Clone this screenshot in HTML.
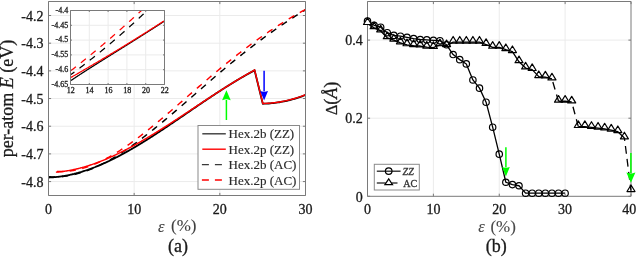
<!DOCTYPE html>
<html><head><meta charset="utf-8"><style>
html,body{margin:0;padding:0;background:#fff;width:637px;height:257px;overflow:hidden}
body{position:relative;font-family:"Liberation Serif",serif}
</style></head><body>
<svg width="637" height="257" viewBox="0 0 637 257" style="position:absolute;left:0;top:0;will-change:transform">
<g font-family="'Liberation Serif', serif">
<line x1="134.17" y1="1.50" x2="134.17" y2="195.50" stroke="#ebebeb" stroke-width="1" />
<line x1="219.83" y1="1.50" x2="219.83" y2="195.50" stroke="#ebebeb" stroke-width="1" />
<line x1="48.50" y1="15.50" x2="305.50" y2="15.50" stroke="#ebebeb" stroke-width="1" />
<line x1="48.50" y1="43.18" x2="305.50" y2="43.18" stroke="#ebebeb" stroke-width="1" />
<line x1="48.50" y1="70.86" x2="305.50" y2="70.86" stroke="#ebebeb" stroke-width="1" />
<line x1="48.50" y1="98.54" x2="305.50" y2="98.54" stroke="#ebebeb" stroke-width="1" />
<line x1="48.50" y1="126.22" x2="305.50" y2="126.22" stroke="#ebebeb" stroke-width="1" />
<line x1="48.50" y1="153.90" x2="305.50" y2="153.90" stroke="#ebebeb" stroke-width="1" />
<line x1="48.50" y1="181.58" x2="305.50" y2="181.58" stroke="#ebebeb" stroke-width="1" />
<defs><clipPath id="cl"><rect x="48.5" y="1.5" width="257" height="194"/></clipPath><clipPath id="cr"><rect x="367.5" y="1.5" width="264" height="195"/></clipPath><clipPath id="ci"><rect x="70.5" y="10.5" width="94" height="74"/></clipPath></defs>
<g clip-path="url(#cl)" fill="none" stroke-linejoin="round">
<path d="M48.50,176.73 L49.36,176.79 L50.22,176.84 L51.08,176.88 L51.94,176.91 L52.81,176.94 L53.67,176.95 L54.53,176.95 L55.39,176.95 L56.25,176.93 L57.11,176.90 L57.97,176.87 L58.83,176.83 L59.70,176.77 L60.56,176.71 L61.42,176.64 L62.28,176.56 L63.14,176.47 L64.00,176.37 L64.86,176.26 L65.72,176.15 L66.59,176.02 L67.45,175.89 L68.31,175.75 L69.17,175.60 L70.03,175.44 L70.89,175.27 L71.75,175.10 L72.61,174.91 L73.47,174.72 L74.34,174.52 L75.20,174.31 L76.06,174.10 L76.92,173.87 L77.78,173.64 L78.64,173.40 L79.50,173.15 L80.36,172.89 L81.23,172.63 L82.09,172.36 L82.95,172.08 L83.81,171.79 L84.67,171.50 L85.53,171.20 L86.39,170.89 L87.25,170.58 L88.12,170.25 L88.98,169.92 L89.84,169.59 L90.70,169.24 L91.56,168.89 L92.42,168.53 L93.28,168.17 L94.14,167.80 L95.01,167.42 L95.87,167.04 L96.73,166.64 L97.59,166.25 L98.45,165.84 L99.31,165.43 L100.17,165.01 L101.03,164.59 L101.89,164.16 L102.76,163.73 L103.62,163.28 L104.48,162.84 L105.34,162.38 L106.20,161.92 L107.06,161.46 L107.92,160.99 L108.78,160.51 L109.65,160.03 L110.51,159.54 L111.37,159.04 L112.23,158.54 L113.09,158.04 L113.95,157.53 L114.81,157.01 L115.67,156.49 L116.54,155.97 L117.40,155.44 L118.26,154.90 L119.12,154.36 L119.98,153.81 L120.84,153.26 L121.70,152.71 L122.56,152.15 L123.42,151.58 L124.29,151.01 L125.15,150.44 L126.01,149.86 L126.87,149.28 L127.73,148.69 L128.59,148.10 L129.45,147.50 L130.31,146.90 L131.18,146.29 L132.04,145.69 L132.90,145.07 L133.76,144.46 L134.62,143.84 L135.48,143.21 L136.34,142.58 L137.20,141.95 L138.07,141.32 L138.93,140.68 L139.79,140.03 L140.65,139.39 L141.51,138.74 L142.37,138.09 L143.23,137.43 L144.09,136.77 L144.95,136.11 L145.82,135.44 L146.68,134.77 L147.54,134.10 L148.40,133.43 L149.26,132.75 L150.12,132.07 L150.98,131.39 L151.84,130.70 L152.71,130.01 L153.57,129.32 L154.43,128.63 L155.29,127.93 L156.15,127.23 L157.01,126.53 L157.87,125.83 L158.73,125.13 L159.60,124.42 L160.46,123.71 L161.32,123.00 L162.18,122.29 L163.04,121.57 L163.90,120.85 L164.76,120.14 L165.62,119.42 L166.48,118.69 L167.35,117.97 L168.21,117.24 L169.07,116.52 L169.93,115.79 L170.79,115.06 L171.65,114.33 L172.51,113.59 L173.37,112.86 L174.24,112.13 L175.10,111.39 L175.96,110.65 L176.82,109.91 L177.68,109.17 L178.54,108.43 L179.40,107.69 L180.26,106.95 L181.13,106.20 L181.99,105.46 L182.85,104.71 L183.71,103.97 L184.57,103.22 L185.43,102.47 L186.29,101.72 L187.15,100.98 L188.02,100.23 L188.88,99.48 L189.74,98.73 L190.60,97.98 L191.46,97.23 L192.32,96.48 L193.18,95.73 L194.04,94.98 L194.90,94.22 L195.77,93.47 L196.63,92.72 L197.49,91.97 L198.35,91.22 L199.21,90.47 L200.07,89.72 L200.93,88.97 L201.79,88.22 L202.66,87.47 L203.52,86.72 L204.38,85.97 L205.24,85.22 L206.10,84.48 L206.96,83.73 L207.82,82.98 L208.68,82.24 L209.55,81.49 L210.41,80.75 L211.27,80.01 L212.13,79.26 L212.99,78.52 L213.85,77.78 L214.71,77.04 L215.57,76.30 L216.43,75.57 L217.30,74.83 L218.16,74.10 L219.02,73.36 L219.88,72.63 L220.74,71.90 L221.60,71.17 L222.46,70.44 L223.32,69.72 L224.19,68.99 L225.05,68.27 L225.91,67.55 L226.77,66.83 L227.63,66.11 L228.49,65.40 L229.35,64.68 L230.21,63.97 L231.08,63.26 L231.94,62.55 L232.80,61.85 L233.66,61.14 L234.52,60.44 L235.38,59.74 L236.24,59.04 L237.10,58.35 L237.96,57.65 L238.83,56.96 L239.69,56.27 L240.55,55.58 L241.41,54.90 L242.27,54.21 L243.13,53.53 L243.99,52.85 L244.85,52.18 L245.72,51.50 L246.58,50.83 L247.44,50.15 L248.30,49.48 L249.16,48.82 L250.02,48.15 L250.88,47.49 L251.74,46.83 L252.61,46.17 L253.47,45.51 L254.33,44.86 L255.19,44.20 L256.05,43.55 L256.91,42.90 L257.77,42.26 L258.63,41.61 L259.49,40.97 L260.36,40.33 L261.22,39.69 L262.08,39.05 L262.94,38.42 L263.80,37.79 L264.66,37.16 L265.52,36.53 L266.38,35.90 L267.25,35.28 L268.11,34.66 L268.97,34.04 L269.83,33.42 L270.69,32.81 L271.55,32.19 L272.41,31.58 L273.27,30.97 L274.14,30.37 L275.00,29.76 L275.86,29.16 L276.72,28.56 L277.58,27.96 L278.44,27.37 L279.30,26.77 L280.16,26.18 L281.03,25.59 L281.89,25.00 L282.75,24.42 L283.61,23.84 L284.47,23.26 L285.33,22.68 L286.19,22.10 L287.05,21.53 L287.91,20.96 L288.78,20.39 L289.64,19.82 L290.50,19.25 L291.36,18.69 L292.22,18.13 L293.08,17.57 L293.94,17.02 L294.80,16.46 L295.67,15.91 L296.53,15.36 L297.39,14.81 L298.25,14.27 L299.11,13.73 L299.97,13.19 L300.83,12.65 L301.69,12.11 L302.56,11.58 L303.42,11.05 L304.28,10.52 L305.14,9.99 L306.00,9.47" stroke="#000" stroke-width="1.45" stroke-dasharray="6.40 6.44" stroke-dashoffset="12.29"/>
<path d="M55.90,171.35 L56.74,171.41 L57.57,171.46 L58.41,171.49 L59.25,171.52 L60.08,171.54 L60.92,171.54 L61.76,171.54 L62.59,171.52 L63.43,171.50 L64.26,171.47 L65.10,171.42 L65.94,171.37 L66.77,171.30 L67.61,171.23 L68.45,171.15 L69.28,171.06 L70.12,170.95 L70.96,170.84 L71.79,170.72 L72.63,170.59 L73.47,170.45 L74.30,170.31 L75.14,170.15 L75.97,169.98 L76.81,169.81 L77.65,169.62 L78.48,169.43 L79.32,169.23 L80.16,169.02 L80.99,168.80 L81.83,168.58 L82.67,168.34 L83.50,168.10 L84.34,167.85 L85.18,167.59 L86.01,167.32 L86.85,167.04 L87.69,166.76 L88.52,166.47 L89.36,166.17 L90.19,165.86 L91.03,165.54 L91.87,165.22 L92.70,164.89 L93.54,164.55 L94.38,164.21 L95.21,163.86 L96.05,163.50 L96.89,163.13 L97.72,162.76 L98.56,162.38 L99.40,161.99 L100.23,161.59 L101.07,161.19 L101.91,160.78 L102.74,160.37 L103.58,159.95 L104.41,159.52 L105.25,159.09 L106.09,158.65 L106.92,158.20 L107.76,157.75 L108.60,157.29 L109.43,156.82 L110.27,156.35 L111.11,155.87 L111.94,155.39 L112.78,154.90 L113.62,154.40 L114.45,153.90 L115.29,153.40 L116.12,152.89 L116.96,152.37 L117.80,151.85 L118.63,151.32 L119.47,150.79 L120.31,150.25 L121.14,149.70 L121.98,149.16 L122.82,148.60 L123.65,148.04 L124.49,147.48 L125.33,146.91 L126.16,146.34 L127.00,145.76 L127.84,145.18 L128.67,144.60 L129.51,144.01 L130.34,143.41 L131.18,142.81 L132.02,142.21 L132.85,141.60 L133.69,140.99 L134.53,140.38 L135.36,139.76 L136.20,139.14 L137.04,138.51 L137.87,137.88 L138.71,137.25 L139.55,136.61 L140.38,135.97 L141.22,135.32 L142.05,134.68 L142.89,134.03 L143.73,133.37 L144.56,132.72 L145.40,132.06 L146.24,131.39 L147.07,130.73 L147.91,130.06 L148.75,129.39 L149.58,128.71 L150.42,128.04 L151.26,127.36 L152.09,126.68 L152.93,125.99 L153.77,125.31 L154.60,124.62 L155.44,123.93 L156.27,123.24 L157.11,122.54 L157.95,121.85 L158.78,121.15 L159.62,120.45 L160.46,119.75 L161.29,119.04 L162.13,118.34 L162.97,117.63 L163.80,116.92 L164.64,116.21 L165.48,115.50 L166.31,114.79 L167.15,114.08 L167.98,113.36 L168.82,112.65 L169.66,111.93 L170.49,111.22 L171.33,110.50 L172.17,109.78 L173.00,109.06 L173.84,108.34 L174.68,107.62 L175.51,106.90 L176.35,106.18 L177.19,105.45 L178.02,104.73 L178.86,104.01 L179.70,103.28 L180.53,102.56 L181.37,101.84 L182.20,101.11 L183.04,100.39 L183.88,99.66 L184.71,98.94 L185.55,98.21 L186.39,97.49 L187.22,96.76 L188.06,96.04 L188.90,95.31 L189.73,94.58 L190.57,93.86 L191.41,93.13 L192.24,92.41 L193.08,91.68 L193.92,90.96 L194.75,90.24 L195.59,89.51 L196.42,88.79 L197.26,88.07 L198.10,87.34 L198.93,86.62 L199.77,85.90 L200.61,85.18 L201.44,84.46 L202.28,83.74 L203.12,83.02 L203.95,82.30 L204.79,81.59 L205.63,80.87 L206.46,80.15 L207.30,79.44 L208.13,78.73 L208.97,78.01 L209.81,77.30 L210.64,76.59 L211.48,75.88 L212.32,75.17 L213.15,74.47 L213.99,73.76 L214.83,73.06 L215.66,72.35 L216.50,71.65 L217.34,70.95 L218.17,70.25 L219.01,69.56 L219.85,68.86 L220.68,68.17 L221.52,67.47 L222.35,66.78 L223.19,66.09 L224.03,65.40 L224.86,64.72 L225.70,64.03 L226.54,63.35 L227.37,62.67 L228.21,61.99 L229.05,61.32 L229.88,60.64 L230.72,59.97 L231.56,59.30 L232.39,58.63 L233.23,57.97 L234.06,57.30 L234.90,56.64 L235.74,55.98 L236.57,55.32 L237.41,54.67 L238.25,54.01 L239.08,53.36 L239.92,52.71 L240.76,52.07 L241.59,51.42 L242.43,50.78 L243.27,50.14 L244.10,49.50 L244.94,48.87 L245.78,48.23 L246.61,47.60 L247.45,46.97 L248.28,46.34 L249.12,45.72 L249.96,45.10 L250.79,44.48 L251.63,43.86 L252.47,43.25 L253.30,42.63 L254.14,42.02 L254.98,41.41 L255.81,40.81 L256.65,40.21 L257.49,39.60 L258.32,39.01 L259.16,38.41 L259.99,37.82 L260.83,37.22 L261.67,36.64 L262.50,36.05 L263.34,35.47 L264.18,34.88 L265.01,34.31 L265.85,33.73 L266.69,33.15 L267.52,32.58 L268.36,32.01 L269.20,31.45 L270.03,30.88 L270.87,30.32 L271.71,29.76 L272.54,29.21 L273.38,28.66 L274.21,28.10 L275.05,27.56 L275.89,27.01 L276.72,26.47 L277.56,25.93 L278.40,25.39 L279.23,24.86 L280.07,24.32 L280.91,23.79 L281.74,23.27 L282.58,22.74 L283.42,22.22 L284.25,21.70 L285.09,21.19 L285.93,20.67 L286.76,20.16 L287.60,19.66 L288.43,19.15 L289.27,18.65 L290.11,18.15 L290.94,17.65 L291.78,17.16 L292.62,16.67 L293.45,16.18 L294.29,15.70 L295.13,15.21 L295.96,14.73 L296.80,14.26 L297.64,13.78 L298.47,13.31 L299.31,12.85 L300.14,12.38 L300.98,11.92 L301.82,11.46 L302.65,11.01 L303.49,10.55 L304.33,10.10 L305.16,9.66 L306.00,9.21" stroke="#f00" stroke-width="1.45" stroke-dasharray="6.40 6.41" stroke-dashoffset="11.85"/>
<path d="M48.50,177.52 L49.19,177.50 L49.88,177.47 L50.57,177.44 L51.26,177.41 L51.94,177.37 L52.63,177.32 L53.32,177.28 L54.01,177.22 L54.70,177.17 L55.39,177.11 L56.08,177.04 L56.77,176.97 L57.46,176.90 L58.15,176.82 L58.83,176.74 L59.52,176.65 L60.21,176.56 L60.90,176.47 L61.59,176.37 L62.28,176.26 L62.97,176.16 L63.66,176.05 L64.35,175.93 L65.04,175.81 L65.72,175.69 L66.41,175.56 L67.10,175.43 L67.79,175.30 L68.48,175.16 L69.17,175.02 L69.86,174.87 L70.55,174.72 L71.24,174.57 L71.92,174.41 L72.61,174.25 L73.30,174.08 L73.99,173.92 L74.68,173.74 L75.37,173.57 L76.06,173.39 L76.75,173.21 L77.44,173.02 L78.13,172.83 L78.81,172.63 L79.50,172.44 L80.19,172.24 L80.88,172.03 L81.57,171.83 L82.26,171.61 L82.95,171.40 L83.64,171.18 L84.33,170.96 L85.02,170.74 L85.70,170.51 L86.39,170.28 L87.08,170.04 L87.77,169.81 L88.46,169.56 L89.15,169.32 L89.84,169.07 L90.53,168.82 L91.22,168.57 L91.90,168.31 L92.59,168.05 L93.28,167.79 L93.97,167.52 L94.66,167.26 L95.35,166.98 L96.04,166.71 L96.73,166.43 L97.42,166.15 L98.11,165.87 L98.79,165.58 L99.48,165.29 L100.17,165.00 L100.86,164.70 L101.55,164.41 L102.24,164.11 L102.93,163.80 L103.62,163.50 L104.31,163.19 L104.99,162.88 L105.68,162.56 L106.37,162.25 L107.06,161.93 L107.75,161.60 L108.44,161.28 L109.13,160.95 L109.82,160.62 L110.51,160.29 L111.20,159.96 L111.88,159.62 L112.57,159.28 L113.26,158.94 L113.95,158.59 L114.64,158.25 L115.33,157.90 L116.02,157.55 L116.71,157.19 L117.40,156.84 L118.09,156.48 L118.77,156.12 L119.46,155.76 L120.15,155.39 L120.84,155.02 L121.53,154.66 L122.22,154.28 L122.91,153.91 L123.60,153.53 L124.29,153.16 L124.97,152.78 L125.66,152.40 L126.35,152.01 L127.04,151.63 L127.73,151.24 L128.42,150.85 L129.11,150.46 L129.80,150.07 L130.49,149.67 L131.18,149.27 L131.86,148.88 L132.55,148.48 L133.24,148.07 L133.93,147.67 L134.62,147.26 L135.31,146.86 L136.00,146.45 L136.69,146.04 L137.38,145.62 L138.07,145.21 L138.75,144.79 L139.44,144.38 L140.13,143.96 L140.82,143.54 L141.51,143.12 L142.20,142.69 L142.89,142.27 L143.58,141.84 L144.27,141.42 L144.95,140.99 L145.64,140.56 L146.33,140.12 L147.02,139.69 L147.71,139.26 L148.40,138.82 L149.09,138.39 L149.78,137.95 L150.47,137.51 L151.16,137.07 L151.84,136.63 L152.53,136.18 L153.22,135.74 L153.91,135.30 L154.60,134.85 L155.29,134.40 L155.98,133.95 L156.67,133.51 L157.36,133.06 L158.05,132.60 L158.73,132.15 L159.42,131.70 L160.11,131.25 L160.80,130.79 L161.49,130.34 L162.18,129.88 L162.87,129.42 L163.56,128.97 L164.25,128.51 L164.93,128.05 L165.62,127.59 L166.31,127.13 L167.00,126.66 L167.69,126.20 L168.38,125.74 L169.07,125.28 L169.76,124.81 L170.45,124.35 L171.14,123.88 L171.82,123.42 L172.51,122.95 L173.20,122.49 L173.89,122.02 L174.58,121.55 L175.27,121.08 L175.96,120.61 L176.65,120.15 L177.34,119.68 L178.03,119.21 L178.71,118.74 L179.40,118.27 L180.09,117.80 L180.78,117.33 L181.47,116.86 L182.16,116.39 L182.85,115.92 L183.54,115.45 L184.23,114.98 L184.91,114.50 L185.60,114.03 L186.29,113.56 L186.98,113.09 L187.67,112.62 L188.36,112.15 L189.05,111.68 L189.74,111.21 L190.43,110.73 L191.12,110.26 L191.80,109.79 L192.49,109.32 L193.18,108.85 L193.87,108.38 L194.56,107.91 L195.25,107.44 L195.94,106.97 L196.63,106.50 L197.32,106.03 L198.01,105.57 L198.69,105.10 L199.38,104.63 L200.07,104.16 L200.76,103.70 L201.45,103.23 L202.14,102.76 L202.83,102.30 L203.52,101.83 L204.21,101.37 L204.89,100.90 L205.58,100.44 L206.27,99.98 L206.96,99.51 L207.65,99.05 L208.34,98.59 L209.03,98.13 L209.72,97.67 L210.41,97.21 L211.10,96.76 L211.78,96.30 L212.47,95.84 L213.16,95.39 L213.85,94.93 L214.54,94.48 L215.23,94.02 L215.92,93.57 L216.61,93.12 L217.30,92.67 L217.98,92.22 L218.67,91.77 L219.36,91.33 L220.05,90.88 L220.74,90.44 L221.43,89.99 L222.12,89.55 L222.81,89.11 L223.50,88.67 L224.19,88.23 L224.87,87.79 L225.56,87.35 L226.25,86.92 L226.94,86.48 L227.63,86.05 L228.32,85.62 L229.01,85.19 L229.70,84.76 L230.39,84.33 L231.08,83.90 L231.76,83.48 L232.45,83.05 L233.14,82.63 L233.83,82.21 L234.52,81.79 L235.21,81.38 L235.90,80.96 L236.59,80.55 L237.28,80.13 L237.96,79.72 L238.65,79.31 L239.34,78.90 L240.03,78.50 L240.72,78.09 L241.41,77.69 L242.10,77.29 L242.79,76.89 L243.48,76.49 L244.17,76.10 L244.85,75.71 L245.54,75.31 L246.23,74.92 L246.92,74.54 L247.61,74.15 L248.30,73.77 L248.99,73.38 L249.68,73.00 L250.37,72.63 L251.06,72.25 L251.74,71.88 L252.43,71.51 L253.12,71.14 L253.81,70.77 L254.50,70.40 L254.50,69.95 L262.80,103.75 L262.80,103.75 L264.31,103.71 L265.81,103.65 L267.32,103.58 L268.83,103.48 L270.33,103.36 L271.84,103.22 L273.35,103.07 L274.86,102.89 L276.36,102.69 L277.87,102.48 L279.38,102.24 L280.88,101.98 L282.39,101.71 L283.90,101.41 L285.40,101.10 L286.91,100.76 L288.42,100.41 L289.92,100.03 L291.43,99.63 L292.94,99.22 L294.44,98.79 L295.95,98.33 L297.46,97.86 L298.97,97.36 L300.47,96.85 L301.98,96.31 L303.49,95.76 L304.99,95.19 L306.50,94.59" stroke="#000" stroke-width="1.7999999999999998"/>
<path d="M55.90,172.18 L56.56,172.13 L57.23,172.08 L57.89,172.02 L58.56,171.96 L59.22,171.90 L59.89,171.83 L60.55,171.76 L61.21,171.68 L61.88,171.60 L62.54,171.52 L63.21,171.43 L63.87,171.34 L64.53,171.25 L65.20,171.15 L65.86,171.05 L66.53,170.95 L67.19,170.84 L67.86,170.73 L68.52,170.62 L69.18,170.50 L69.85,170.38 L70.51,170.25 L71.18,170.13 L71.84,169.99 L72.51,169.86 L73.17,169.72 L73.83,169.58 L74.50,169.44 L75.16,169.29 L75.83,169.14 L76.49,168.98 L77.15,168.83 L77.82,168.67 L78.48,168.50 L79.15,168.33 L79.81,168.16 L80.48,167.99 L81.14,167.81 L81.80,167.64 L82.47,167.45 L83.13,167.27 L83.80,167.08 L84.46,166.89 L85.13,166.69 L85.79,166.50 L86.45,166.29 L87.12,166.09 L87.78,165.89 L88.45,165.68 L89.11,165.46 L89.77,165.25 L90.44,165.03 L91.10,164.81 L91.77,164.59 L92.43,164.36 L93.10,164.13 L93.76,163.90 L94.42,163.66 L95.09,163.43 L95.75,163.19 L96.42,162.94 L97.08,162.70 L97.75,162.45 L98.41,162.20 L99.07,161.95 L99.74,161.69 L100.40,161.43 L101.07,161.17 L101.73,160.91 L102.39,160.64 L103.06,160.37 L103.72,160.10 L104.39,159.83 L105.05,159.55 L105.72,159.28 L106.38,158.99 L107.04,158.71 L107.71,158.43 L108.37,158.14 L109.04,157.85 L109.70,157.55 L110.37,157.26 L111.03,156.96 L111.69,156.66 L112.36,156.36 L113.02,156.06 L113.69,155.75 L114.35,155.44 L115.02,155.13 L115.68,154.82 L116.34,154.50 L117.01,154.19 L117.67,153.87 L118.34,153.55 L119.00,153.22 L119.66,152.90 L120.33,152.57 L120.99,152.24 L121.66,151.91 L122.32,151.58 L122.99,151.24 L123.65,150.91 L124.31,150.57 L124.98,150.23 L125.64,149.88 L126.31,149.54 L126.97,149.19 L127.64,148.84 L128.30,148.49 L128.96,148.14 L129.63,147.79 L130.29,147.43 L130.96,147.07 L131.62,146.71 L132.28,146.35 L132.95,145.99 L133.61,145.63 L134.28,145.26 L134.94,144.89 L135.61,144.52 L136.27,144.15 L136.93,143.78 L137.60,143.41 L138.26,143.03 L138.93,142.66 L139.59,142.28 L140.26,141.90 L140.92,141.52 L141.58,141.13 L142.25,140.75 L142.91,140.36 L143.58,139.98 L144.24,139.59 L144.90,139.20 L145.57,138.81 L146.23,138.41 L146.90,138.02 L147.56,137.63 L148.23,137.23 L148.89,136.83 L149.55,136.43 L150.22,136.03 L150.88,135.63 L151.55,135.23 L152.21,134.83 L152.88,134.42 L153.54,134.02 L154.20,133.61 L154.87,133.20 L155.53,132.79 L156.20,132.38 L156.86,131.97 L157.52,131.56 L158.19,131.15 L158.85,130.73 L159.52,130.32 L160.18,129.90 L160.85,129.48 L161.51,129.06 L162.17,128.65 L162.84,128.23 L163.50,127.81 L164.17,127.38 L164.83,126.96 L165.50,126.54 L166.16,126.12 L166.82,125.69 L167.49,125.27 L168.15,124.84 L168.82,124.41 L169.48,123.99 L170.14,123.56 L170.81,123.13 L171.47,122.70 L172.14,122.27 L172.80,121.84 L173.47,121.41 L174.13,120.98 L174.79,120.54 L175.46,120.11 L176.12,119.68 L176.79,119.24 L177.45,118.81 L178.12,118.38 L178.78,117.94 L179.44,117.51 L180.11,117.07 L180.77,116.63 L181.44,116.20 L182.10,115.76 L182.76,115.32 L183.43,114.88 L184.09,114.45 L184.76,114.01 L185.42,113.57 L186.09,113.13 L186.75,112.69 L187.41,112.25 L188.08,111.81 L188.74,111.37 L189.41,110.93 L190.07,110.49 L190.74,110.06 L191.40,109.62 L192.06,109.18 L192.73,108.74 L193.39,108.30 L194.06,107.85 L194.72,107.41 L195.38,106.97 L196.05,106.53 L196.71,106.09 L197.38,105.65 L198.04,105.22 L198.71,104.78 L199.37,104.34 L200.03,103.90 L200.70,103.46 L201.36,103.02 L202.03,102.58 L202.69,102.14 L203.36,101.70 L204.02,101.26 L204.68,100.83 L205.35,100.39 L206.01,99.95 L206.68,99.51 L207.34,99.08 L208.01,98.64 L208.67,98.20 L209.33,97.77 L210.00,97.33 L210.66,96.90 L211.33,96.47 L211.99,96.03 L212.65,95.60 L213.32,95.17 L213.98,94.73 L214.65,94.30 L215.31,93.87 L215.98,93.44 L216.64,93.01 L217.30,92.58 L217.97,92.15 L218.63,91.72 L219.30,91.30 L219.96,90.87 L220.63,90.44 L221.29,90.02 L221.95,89.60 L222.62,89.17 L223.28,88.75 L223.95,88.33 L224.61,87.91 L225.27,87.48 L225.94,87.07 L226.60,86.65 L227.27,86.23 L227.93,85.81 L228.60,85.40 L229.26,84.98 L229.92,84.57 L230.59,84.15 L231.25,83.74 L231.92,83.33 L232.58,82.92 L233.25,82.51 L233.91,82.10 L234.57,81.70 L235.24,81.29 L235.90,80.89 L236.57,80.48 L237.23,80.08 L237.89,79.68 L238.56,79.28 L239.22,78.88 L239.89,78.48 L240.55,78.09 L241.22,77.69 L241.88,77.30 L242.54,76.91 L243.21,76.51 L243.87,76.12 L244.54,75.74 L245.20,75.35 L245.87,74.96 L246.53,74.58 L247.19,74.20 L247.86,73.82 L248.52,73.44 L249.19,73.06 L249.85,72.68 L250.51,72.31 L251.18,71.93 L251.84,71.56 L252.51,71.19 L253.17,70.82 L253.84,70.45 L254.50,70.09 L254.50,69.70 L262.80,103.50 L262.80,103.50 L264.31,103.46 L265.81,103.40 L267.32,103.33 L268.83,103.23 L270.33,103.11 L271.84,102.97 L273.35,102.82 L274.86,102.64 L276.36,102.44 L277.87,102.23 L279.38,101.99 L280.88,101.73 L282.39,101.46 L283.90,101.16 L285.40,100.85 L286.91,100.51 L288.42,100.16 L289.92,99.78 L291.43,99.38 L292.94,98.97 L294.44,98.54 L295.95,98.08 L297.46,97.61 L298.97,97.11 L300.47,96.60 L301.98,96.06 L303.49,95.51 L304.99,94.94 L306.50,94.34" stroke="#f00" stroke-width="1.45"/>
</g>
<line x1="48.50" y1="1.50" x2="305.50" y2="1.50" stroke="#7a7a7a" stroke-width="1" />
<line x1="48.50" y1="195.50" x2="305.50" y2="195.50" stroke="#7a7a7a" stroke-width="1" />
<line x1="48.50" y1="1.50" x2="48.50" y2="195.50" stroke="#7a7a7a" stroke-width="1" />
<line x1="305.50" y1="1.50" x2="305.50" y2="195.50" stroke="#7a7a7a" stroke-width="1" />
<line x1="48.50" y1="15.50" x2="51.10" y2="15.50" stroke="#7a7a7a" stroke-width="1" />
<line x1="305.50" y1="15.50" x2="302.90" y2="15.50" stroke="#7a7a7a" stroke-width="1" />
<text x="43.50" y="20.50" font-size="14" text-anchor="end" fill="#1a1a1a" stroke="#1a1a1a" stroke-width="0.3" >-4.2</text>
<line x1="48.50" y1="43.18" x2="51.10" y2="43.18" stroke="#7a7a7a" stroke-width="1" />
<line x1="305.50" y1="43.18" x2="302.90" y2="43.18" stroke="#7a7a7a" stroke-width="1" />
<text x="43.50" y="48.18" font-size="14" text-anchor="end" fill="#1a1a1a" stroke="#1a1a1a" stroke-width="0.3" >-4.3</text>
<line x1="48.50" y1="70.86" x2="51.10" y2="70.86" stroke="#7a7a7a" stroke-width="1" />
<line x1="305.50" y1="70.86" x2="302.90" y2="70.86" stroke="#7a7a7a" stroke-width="1" />
<text x="43.50" y="75.86" font-size="14" text-anchor="end" fill="#1a1a1a" stroke="#1a1a1a" stroke-width="0.3" >-4.4</text>
<line x1="48.50" y1="98.54" x2="51.10" y2="98.54" stroke="#7a7a7a" stroke-width="1" />
<line x1="305.50" y1="98.54" x2="302.90" y2="98.54" stroke="#7a7a7a" stroke-width="1" />
<text x="43.50" y="103.54" font-size="14" text-anchor="end" fill="#1a1a1a" stroke="#1a1a1a" stroke-width="0.3" >-4.5</text>
<line x1="48.50" y1="126.22" x2="51.10" y2="126.22" stroke="#7a7a7a" stroke-width="1" />
<line x1="305.50" y1="126.22" x2="302.90" y2="126.22" stroke="#7a7a7a" stroke-width="1" />
<text x="43.50" y="131.22" font-size="14" text-anchor="end" fill="#1a1a1a" stroke="#1a1a1a" stroke-width="0.3" >-4.6</text>
<line x1="48.50" y1="153.90" x2="51.10" y2="153.90" stroke="#7a7a7a" stroke-width="1" />
<line x1="305.50" y1="153.90" x2="302.90" y2="153.90" stroke="#7a7a7a" stroke-width="1" />
<text x="43.50" y="158.90" font-size="14" text-anchor="end" fill="#1a1a1a" stroke="#1a1a1a" stroke-width="0.3" >-4.7</text>
<line x1="48.50" y1="181.58" x2="51.10" y2="181.58" stroke="#7a7a7a" stroke-width="1" />
<line x1="305.50" y1="181.58" x2="302.90" y2="181.58" stroke="#7a7a7a" stroke-width="1" />
<text x="43.50" y="186.58" font-size="14" text-anchor="end" fill="#1a1a1a" stroke="#1a1a1a" stroke-width="0.3" >-4.8</text>
<line x1="48.50" y1="195.50" x2="48.50" y2="192.90" stroke="#7a7a7a" stroke-width="1" />
<line x1="48.50" y1="1.50" x2="48.50" y2="4.10" stroke="#7a7a7a" stroke-width="1" />
<text x="48.50" y="213.50" font-size="14" text-anchor="middle" fill="#1a1a1a" stroke="#1a1a1a" stroke-width="0.3" >0</text>
<line x1="134.17" y1="195.50" x2="134.17" y2="192.90" stroke="#7a7a7a" stroke-width="1" />
<line x1="134.17" y1="1.50" x2="134.17" y2="4.10" stroke="#7a7a7a" stroke-width="1" />
<text x="134.17" y="213.50" font-size="14" text-anchor="middle" fill="#1a1a1a" stroke="#1a1a1a" stroke-width="0.3" >10</text>
<line x1="219.83" y1="195.50" x2="219.83" y2="192.90" stroke="#7a7a7a" stroke-width="1" />
<line x1="219.83" y1="1.50" x2="219.83" y2="4.10" stroke="#7a7a7a" stroke-width="1" />
<text x="219.83" y="213.50" font-size="14" text-anchor="middle" fill="#1a1a1a" stroke="#1a1a1a" stroke-width="0.3" >20</text>
<line x1="305.50" y1="195.50" x2="305.50" y2="192.90" stroke="#7a7a7a" stroke-width="1" />
<line x1="305.50" y1="1.50" x2="305.50" y2="4.10" stroke="#7a7a7a" stroke-width="1" />
<text x="305.50" y="213.50" font-size="14" text-anchor="middle" fill="#1a1a1a" stroke="#1a1a1a" stroke-width="0.3" >30</text>
<rect x="70.5" y="10.5" width="94.0" height="74.0" fill="#fff"/>
<line x1="89.30" y1="10.50" x2="89.30" y2="84.50" stroke="#ebebeb" stroke-width="1" />
<line x1="108.10" y1="10.50" x2="108.10" y2="84.50" stroke="#ebebeb" stroke-width="1" />
<line x1="126.90" y1="10.50" x2="126.90" y2="84.50" stroke="#ebebeb" stroke-width="1" />
<line x1="145.70" y1="10.50" x2="145.70" y2="84.50" stroke="#ebebeb" stroke-width="1" />
<line x1="70.50" y1="25.30" x2="164.50" y2="25.30" stroke="#ebebeb" stroke-width="1" />
<line x1="70.50" y1="40.10" x2="164.50" y2="40.10" stroke="#ebebeb" stroke-width="1" />
<line x1="70.50" y1="54.90" x2="164.50" y2="54.90" stroke="#ebebeb" stroke-width="1" />
<line x1="70.50" y1="69.70" x2="164.50" y2="69.70" stroke="#ebebeb" stroke-width="1" />
<g clip-path="url(#ci)" fill="none" stroke-linejoin="round">
<path d="M71.00,74.50 L71.47,74.16 L71.93,73.82 L72.40,73.47 L72.87,73.13 L73.34,72.79 L73.80,72.44 L74.27,72.10 L74.74,71.75 L75.21,71.40 L75.67,71.06 L76.14,70.71 L76.61,70.36 L77.08,70.01 L77.54,69.66 L78.01,69.31 L78.48,68.96 L78.94,68.61 L79.41,68.26 L79.88,67.90 L80.35,67.55 L80.81,67.20 L81.28,66.84 L81.75,66.49 L82.22,66.13 L82.68,65.77 L83.15,65.42 L83.62,65.06 L84.09,64.70 L84.55,64.34 L85.02,63.98 L85.49,63.62 L85.95,63.26 L86.42,62.90 L86.89,62.53 L87.36,62.17 L87.82,61.81 L88.29,61.44 L88.76,61.08 L89.23,60.71 L89.69,60.35 L90.16,59.98 L90.63,59.61 L91.10,59.24 L91.56,58.88 L92.03,58.51 L92.50,58.14 L92.96,57.77 L93.43,57.39 L93.90,57.02 L94.37,56.65 L94.83,56.28 L95.30,55.90 L95.77,55.53 L96.24,55.15 L96.70,54.78 L97.17,54.40 L97.64,54.03 L98.11,53.65 L98.57,53.27 L99.04,52.89 L99.51,52.51 L99.97,52.13 L100.44,51.75 L100.91,51.37 L101.38,50.99 L101.84,50.60 L102.31,50.22 L102.78,49.84 L103.25,49.45 L103.71,49.07 L104.18,48.68 L104.65,48.30 L105.12,47.91 L105.58,47.52 L106.05,47.13 L106.52,46.74 L106.98,46.35 L107.45,45.96 L107.92,45.57 L108.39,45.18 L108.85,44.79 L109.32,44.40 L109.79,44.00 L110.26,43.61 L110.72,43.21 L111.19,42.82 L111.66,42.42 L112.13,42.03 L112.59,41.63 L113.06,41.23 L113.53,40.83 L113.99,40.43 L114.46,40.03 L114.93,39.63 L115.40,39.23 L115.86,38.83 L116.33,38.43 L116.80,38.03 L117.27,37.62 L117.73,37.22 L118.20,36.81 L118.67,36.41 L119.14,36.00 L119.60,35.59 L120.07,35.19 L120.54,34.78 L121.01,34.37 L121.47,33.96 L121.94,33.55 L122.41,33.14 L122.87,32.73 L123.34,32.32 L123.81,31.91 L124.28,31.49 L124.74,31.08 L125.21,30.66 L125.68,30.25 L126.15,29.83 L126.61,29.42 L127.08,29.00 L127.55,28.58 L128.02,28.17 L128.48,27.75 L128.95,27.33 L129.42,26.91 L129.88,26.49 L130.35,26.07 L130.82,25.64 L131.29,25.22 L131.75,24.80 L132.22,24.37 L132.69,23.95 L133.16,23.52 L133.62,23.10 L134.09,22.67 L134.56,22.25 L135.03,21.82 L135.49,21.39 L135.96,20.96 L136.43,20.53 L136.89,20.10 L137.36,19.67 L137.83,19.24 L138.30,18.81 L138.76,18.37 L139.23,17.94 L139.70,17.51 L140.17,17.07 L140.63,16.64 L141.10,16.20 L141.57,15.76 L142.04,15.33 L142.50,14.89 L142.97,14.45 L143.44,14.01 L143.90,13.57 L144.37,13.13 L144.84,12.69 L145.31,12.25 L145.77,11.81 L146.24,11.37 L146.71,10.92 L147.18,10.48 L147.64,10.03 L148.11,9.59 L148.58,9.14 L149.05,8.69 L149.51,8.25 L149.98,7.80 L150.45,7.35 L150.91,6.90 L151.38,6.45 L151.85,6.00 L152.32,5.55 L152.78,5.10 L153.25,4.65 L153.72,4.19 L154.19,3.74 L154.65,3.29 L155.12,2.83 L155.59,2.38 L156.06,1.92 L156.52,1.46 L156.99,1.01 L157.46,0.55 L157.92,0.09 L158.39,-0.37 L158.86,-0.83 L159.33,-1.29 L159.79,-1.75 L160.26,-2.21 L160.73,-2.68 L161.20,-3.14 L161.66,-3.60 L162.13,-4.07 L162.60,-4.53 L163.07,-5.00 L163.53,-5.46 L164.00,-5.93" stroke="#000" stroke-width="1.25" stroke-dasharray="6.6 6.3" stroke-dashoffset="2.31"/>
<path d="M71.00,70.60 L71.47,70.24 L71.93,69.87 L72.40,69.50 L72.87,69.14 L73.34,68.77 L73.80,68.40 L74.27,68.04 L74.74,67.67 L75.21,67.30 L75.67,66.93 L76.14,66.56 L76.61,66.19 L77.08,65.82 L77.54,65.45 L78.01,65.08 L78.48,64.71 L78.94,64.34 L79.41,63.96 L79.88,63.59 L80.35,63.22 L80.81,62.84 L81.28,62.47 L81.75,62.09 L82.22,61.72 L82.68,61.34 L83.15,60.97 L83.62,60.59 L84.09,60.21 L84.55,59.84 L85.02,59.46 L85.49,59.08 L85.95,58.70 L86.42,58.32 L86.89,57.94 L87.36,57.56 L87.82,57.18 L88.29,56.80 L88.76,56.42 L89.23,56.03 L89.69,55.65 L90.16,55.27 L90.63,54.89 L91.10,54.50 L91.56,54.12 L92.03,53.73 L92.50,53.35 L92.96,52.96 L93.43,52.57 L93.90,52.19 L94.37,51.80 L94.83,51.41 L95.30,51.02 L95.77,50.64 L96.24,50.25 L96.70,49.86 L97.17,49.47 L97.64,49.08 L98.11,48.69 L98.57,48.29 L99.04,47.90 L99.51,47.51 L99.97,47.12 L100.44,46.72 L100.91,46.33 L101.38,45.94 L101.84,45.54 L102.31,45.15 L102.78,44.75 L103.25,44.36 L103.71,43.96 L104.18,43.56 L104.65,43.17 L105.12,42.77 L105.58,42.37 L106.05,41.97 L106.52,41.57 L106.98,41.17 L107.45,40.77 L107.92,40.37 L108.39,39.97 L108.85,39.57 L109.32,39.17 L109.79,38.76 L110.26,38.36 L110.72,37.96 L111.19,37.55 L111.66,37.15 L112.13,36.75 L112.59,36.34 L113.06,35.94 L113.53,35.53 L113.99,35.12 L114.46,34.72 L114.93,34.31 L115.40,33.90 L115.86,33.49 L116.33,33.08 L116.80,32.67 L117.27,32.26 L117.73,31.85 L118.20,31.44 L118.67,31.03 L119.14,30.62 L119.60,30.21 L120.07,29.80 L120.54,29.38 L121.01,28.97 L121.47,28.56 L121.94,28.14 L122.41,27.73 L122.87,27.31 L123.34,26.90 L123.81,26.48 L124.28,26.06 L124.74,25.65 L125.21,25.23 L125.68,24.81 L126.15,24.39 L126.61,23.97 L127.08,23.56 L127.55,23.14 L128.02,22.71 L128.48,22.29 L128.95,21.87 L129.42,21.45 L129.88,21.03 L130.35,20.61 L130.82,20.18 L131.29,19.76 L131.75,19.34 L132.22,18.91 L132.69,18.49 L133.16,18.06 L133.62,17.64 L134.09,17.21 L134.56,16.78 L135.03,16.36 L135.49,15.93 L135.96,15.50 L136.43,15.07 L136.89,14.64 L137.36,14.21 L137.83,13.78 L138.30,13.35 L138.76,12.92 L139.23,12.49 L139.70,12.06 L140.17,11.63 L140.63,11.19 L141.10,10.76 L141.57,10.33 L142.04,9.89 L142.50,9.46 L142.97,9.02 L143.44,8.59 L143.90,8.15 L144.37,7.72 L144.84,7.28 L145.31,6.84 L145.77,6.41 L146.24,5.97 L146.71,5.53 L147.18,5.09 L147.64,4.65 L148.11,4.21 L148.58,3.77 L149.05,3.33 L149.51,2.89 L149.98,2.45 L150.45,2.00 L150.91,1.56 L151.38,1.12 L151.85,0.67 L152.32,0.23 L152.78,-0.21 L153.25,-0.66 L153.72,-1.10 L154.19,-1.55 L154.65,-2.00 L155.12,-2.44 L155.59,-2.89 L156.06,-3.34 L156.52,-3.79 L156.99,-4.24 L157.46,-4.69 L157.92,-5.13 L158.39,-5.58 L158.86,-6.04 L159.33,-6.49 L159.79,-6.94 L160.26,-7.39 L160.73,-7.84 L161.20,-8.29 L161.66,-8.75 L162.13,-9.20 L162.60,-9.66 L163.07,-10.11 L163.53,-10.57 L164.00,-11.02" stroke="#f00" stroke-width="1.25" stroke-dasharray="6.4 6.3" stroke-dashoffset="0.13"/>
<path d="M71.00,80.50 L71.47,80.18 L71.93,79.87 L72.40,79.55 L72.87,79.24 L73.34,78.92 L73.80,78.61 L74.27,78.30 L74.74,77.99 L75.21,77.68 L75.67,77.37 L76.14,77.06 L76.61,76.75 L77.08,76.44 L77.54,76.13 L78.01,75.82 L78.48,75.52 L78.94,75.21 L79.41,74.91 L79.88,74.60 L80.35,74.30 L80.81,73.99 L81.28,73.69 L81.75,73.38 L82.22,73.08 L82.68,72.78 L83.15,72.48 L83.62,72.17 L84.09,71.87 L84.55,71.57 L85.02,71.27 L85.49,70.97 L85.95,70.67 L86.42,70.37 L86.89,70.07 L87.36,69.77 L87.82,69.47 L88.29,69.18 L88.76,68.88 L89.23,68.58 L89.69,68.28 L90.16,67.99 L90.63,67.69 L91.10,67.39 L91.56,67.10 L92.03,66.80 L92.50,66.50 L92.96,66.21 L93.43,65.91 L93.90,65.62 L94.37,65.32 L94.83,65.03 L95.30,64.73 L95.77,64.44 L96.24,64.14 L96.70,63.85 L97.17,63.56 L97.64,63.26 L98.11,62.97 L98.57,62.68 L99.04,62.38 L99.51,62.09 L99.97,61.80 L100.44,61.50 L100.91,61.21 L101.38,60.92 L101.84,60.62 L102.31,60.33 L102.78,60.04 L103.25,59.75 L103.71,59.45 L104.18,59.16 L104.65,58.87 L105.12,58.58 L105.58,58.29 L106.05,57.99 L106.52,57.70 L106.98,57.41 L107.45,57.12 L107.92,56.83 L108.39,56.54 L108.85,56.24 L109.32,55.95 L109.79,55.66 L110.26,55.37 L110.72,55.08 L111.19,54.79 L111.66,54.49 L112.13,54.20 L112.59,53.91 L113.06,53.62 L113.53,53.33 L113.99,53.04 L114.46,52.75 L114.93,52.45 L115.40,52.16 L115.86,51.87 L116.33,51.58 L116.80,51.29 L117.27,51.00 L117.73,50.70 L118.20,50.41 L118.67,50.12 L119.14,49.83 L119.60,49.54 L120.07,49.25 L120.54,48.95 L121.01,48.66 L121.47,48.37 L121.94,48.08 L122.41,47.79 L122.87,47.49 L123.34,47.20 L123.81,46.91 L124.28,46.62 L124.74,46.33 L125.21,46.03 L125.68,45.74 L126.15,45.45 L126.61,45.16 L127.08,44.86 L127.55,44.57 L128.02,44.28 L128.48,43.98 L128.95,43.69 L129.42,43.40 L129.88,43.11 L130.35,42.81 L130.82,42.52 L131.29,42.23 L131.75,41.93 L132.22,41.64 L132.69,41.34 L133.16,41.05 L133.62,40.76 L134.09,40.46 L134.56,40.17 L135.03,39.87 L135.49,39.58 L135.96,39.29 L136.43,38.99 L136.89,38.70 L137.36,38.40 L137.83,38.11 L138.30,37.81 L138.76,37.52 L139.23,37.22 L139.70,36.93 L140.17,36.63 L140.63,36.34 L141.10,36.04 L141.57,35.74 L142.04,35.45 L142.50,35.15 L142.97,34.86 L143.44,34.56 L143.90,34.26 L144.37,33.97 L144.84,33.67 L145.31,33.37 L145.77,33.08 L146.24,32.78 L146.71,32.48 L147.18,32.19 L147.64,31.89 L148.11,31.59 L148.58,31.29 L149.05,31.00 L149.51,30.70 L149.98,30.40 L150.45,30.10 L150.91,29.80 L151.38,29.51 L151.85,29.21 L152.32,28.91 L152.78,28.61 L153.25,28.31 L153.72,28.01 L154.19,27.71 L154.65,27.41 L155.12,27.11 L155.59,26.81 L156.06,26.51 L156.52,26.21 L156.99,25.91 L157.46,25.61 L157.92,25.31 L158.39,25.01 L158.86,24.71 L159.33,24.41 L159.79,24.11 L160.26,23.81 L160.73,23.51 L161.20,23.21 L161.66,22.91 L162.13,22.60 L162.60,22.30 L163.07,22.00 L163.53,21.70 L164.00,21.40" stroke="#000" stroke-width="1.25"/>
<path d="M71.00,77.40 L71.47,77.13 L71.93,76.87 L72.40,76.60 L72.87,76.33 L73.34,76.07 L73.80,75.80 L74.27,75.53 L74.74,75.26 L75.21,75.00 L75.67,74.73 L76.14,74.46 L76.61,74.19 L77.08,73.92 L77.54,73.65 L78.01,73.38 L78.48,73.12 L78.94,72.85 L79.41,72.58 L79.88,72.31 L80.35,72.04 L80.81,71.77 L81.28,71.50 L81.75,71.23 L82.22,70.96 L82.68,70.69 L83.15,70.42 L83.62,70.14 L84.09,69.87 L84.55,69.60 L85.02,69.33 L85.49,69.06 L85.95,68.79 L86.42,68.51 L86.89,68.24 L87.36,67.97 L87.82,67.70 L88.29,67.42 L88.76,67.15 L89.23,66.88 L89.69,66.60 L90.16,66.33 L90.63,66.06 L91.10,65.78 L91.56,65.51 L92.03,65.24 L92.50,64.96 L92.96,64.69 L93.43,64.41 L93.90,64.14 L94.37,63.86 L94.83,63.59 L95.30,63.31 L95.77,63.04 L96.24,62.76 L96.70,62.48 L97.17,62.21 L97.64,61.93 L98.11,61.66 L98.57,61.38 L99.04,61.10 L99.51,60.83 L99.97,60.55 L100.44,60.27 L100.91,59.99 L101.38,59.72 L101.84,59.44 L102.31,59.16 L102.78,58.88 L103.25,58.60 L103.71,58.33 L104.18,58.05 L104.65,57.77 L105.12,57.49 L105.58,57.21 L106.05,56.93 L106.52,56.65 L106.98,56.37 L107.45,56.09 L107.92,55.81 L108.39,55.53 L108.85,55.25 L109.32,54.97 L109.79,54.69 L110.26,54.41 L110.72,54.13 L111.19,53.85 L111.66,53.56 L112.13,53.28 L112.59,53.00 L113.06,52.72 L113.53,52.44 L113.99,52.15 L114.46,51.87 L114.93,51.59 L115.40,51.31 L115.86,51.02 L116.33,50.74 L116.80,50.46 L117.27,50.17 L117.73,49.89 L118.20,49.60 L118.67,49.32 L119.14,49.04 L119.60,48.75 L120.07,48.47 L120.54,48.18 L121.01,47.90 L121.47,47.61 L121.94,47.33 L122.41,47.04 L122.87,46.76 L123.34,46.47 L123.81,46.18 L124.28,45.90 L124.74,45.61 L125.21,45.32 L125.68,45.04 L126.15,44.75 L126.61,44.46 L127.08,44.18 L127.55,43.89 L128.02,43.60 L128.48,43.31 L128.95,43.03 L129.42,42.74 L129.88,42.45 L130.35,42.16 L130.82,41.87 L131.29,41.58 L131.75,41.29 L132.22,41.00 L132.69,40.72 L133.16,40.43 L133.62,40.14 L134.09,39.85 L134.56,39.56 L135.03,39.27 L135.49,38.98 L135.96,38.69 L136.43,38.39 L136.89,38.10 L137.36,37.81 L137.83,37.52 L138.30,37.23 L138.76,36.94 L139.23,36.65 L139.70,36.35 L140.17,36.06 L140.63,35.77 L141.10,35.48 L141.57,35.18 L142.04,34.89 L142.50,34.60 L142.97,34.31 L143.44,34.01 L143.90,33.72 L144.37,33.42 L144.84,33.13 L145.31,32.84 L145.77,32.54 L146.24,32.25 L146.71,31.95 L147.18,31.66 L147.64,31.36 L148.11,31.07 L148.58,30.77 L149.05,30.48 L149.51,30.18 L149.98,29.89 L150.45,29.59 L150.91,29.29 L151.38,29.00 L151.85,28.70 L152.32,28.40 L152.78,28.11 L153.25,27.81 L153.72,27.51 L154.19,27.22 L154.65,26.92 L155.12,26.62 L155.59,26.32 L156.06,26.02 L156.52,25.73 L156.99,25.43 L157.46,25.13 L157.92,24.83 L158.39,24.53 L158.86,24.23 L159.33,23.93 L159.79,23.63 L160.26,23.33 L160.73,23.03 L161.20,22.73 L161.66,22.43 L162.13,22.13 L162.60,21.83 L163.07,21.53 L163.53,21.23 L164.00,20.93" stroke="#f00" stroke-width="1.25"/>
</g>
<line x1="70.50" y1="10.50" x2="164.50" y2="10.50" stroke="#7a7a7a" stroke-width="1" />
<line x1="70.50" y1="84.50" x2="164.50" y2="84.50" stroke="#7a7a7a" stroke-width="1" />
<line x1="70.50" y1="10.50" x2="70.50" y2="84.50" stroke="#7a7a7a" stroke-width="1" />
<line x1="164.50" y1="10.50" x2="164.50" y2="84.50" stroke="#7a7a7a" stroke-width="1" />
<line x1="70.50" y1="10.50" x2="72.00" y2="10.50" stroke="#7a7a7a" stroke-width="1" />
<line x1="164.50" y1="10.50" x2="163.00" y2="10.50" stroke="#7a7a7a" stroke-width="1" />
<text x="68.20" y="12.80" font-size="8" text-anchor="end" fill="#1a1a1a" stroke="#1a1a1a" stroke-width="0.3" >-4.4</text>
<line x1="70.50" y1="25.30" x2="72.00" y2="25.30" stroke="#7a7a7a" stroke-width="1" />
<line x1="164.50" y1="25.30" x2="163.00" y2="25.30" stroke="#7a7a7a" stroke-width="1" />
<text x="68.20" y="27.60" font-size="8" text-anchor="end" fill="#1a1a1a" stroke="#1a1a1a" stroke-width="0.3" >-4.45</text>
<line x1="70.50" y1="40.10" x2="72.00" y2="40.10" stroke="#7a7a7a" stroke-width="1" />
<line x1="164.50" y1="40.10" x2="163.00" y2="40.10" stroke="#7a7a7a" stroke-width="1" />
<text x="68.20" y="42.40" font-size="8" text-anchor="end" fill="#1a1a1a" stroke="#1a1a1a" stroke-width="0.3" >-4.5</text>
<line x1="70.50" y1="54.90" x2="72.00" y2="54.90" stroke="#7a7a7a" stroke-width="1" />
<line x1="164.50" y1="54.90" x2="163.00" y2="54.90" stroke="#7a7a7a" stroke-width="1" />
<text x="68.20" y="57.20" font-size="8" text-anchor="end" fill="#1a1a1a" stroke="#1a1a1a" stroke-width="0.3" >-4.55</text>
<line x1="70.50" y1="69.70" x2="72.00" y2="69.70" stroke="#7a7a7a" stroke-width="1" />
<line x1="164.50" y1="69.70" x2="163.00" y2="69.70" stroke="#7a7a7a" stroke-width="1" />
<text x="68.20" y="72.00" font-size="8" text-anchor="end" fill="#1a1a1a" stroke="#1a1a1a" stroke-width="0.3" >-4.6</text>
<line x1="70.50" y1="84.50" x2="72.00" y2="84.50" stroke="#7a7a7a" stroke-width="1" />
<line x1="164.50" y1="84.50" x2="163.00" y2="84.50" stroke="#7a7a7a" stroke-width="1" />
<text x="68.20" y="86.80" font-size="8" text-anchor="end" fill="#1a1a1a" stroke="#1a1a1a" stroke-width="0.3" >-4.65</text>
<line x1="70.50" y1="84.50" x2="70.50" y2="83.00" stroke="#7a7a7a" stroke-width="1" />
<line x1="70.50" y1="10.50" x2="70.50" y2="12.00" stroke="#7a7a7a" stroke-width="1" />
<text x="70.80" y="93.00" font-size="8" text-anchor="middle" fill="#1a1a1a" stroke="#1a1a1a" stroke-width="0.3" >12</text>
<line x1="89.30" y1="84.50" x2="89.30" y2="83.00" stroke="#7a7a7a" stroke-width="1" />
<line x1="89.30" y1="10.50" x2="89.30" y2="12.00" stroke="#7a7a7a" stroke-width="1" />
<text x="89.60" y="93.00" font-size="8" text-anchor="middle" fill="#1a1a1a" stroke="#1a1a1a" stroke-width="0.3" >14</text>
<line x1="108.10" y1="84.50" x2="108.10" y2="83.00" stroke="#7a7a7a" stroke-width="1" />
<line x1="108.10" y1="10.50" x2="108.10" y2="12.00" stroke="#7a7a7a" stroke-width="1" />
<text x="108.40" y="93.00" font-size="8" text-anchor="middle" fill="#1a1a1a" stroke="#1a1a1a" stroke-width="0.3" >16</text>
<line x1="126.90" y1="84.50" x2="126.90" y2="83.00" stroke="#7a7a7a" stroke-width="1" />
<line x1="126.90" y1="10.50" x2="126.90" y2="12.00" stroke="#7a7a7a" stroke-width="1" />
<text x="127.20" y="93.00" font-size="8" text-anchor="middle" fill="#1a1a1a" stroke="#1a1a1a" stroke-width="0.3" >18</text>
<line x1="145.70" y1="84.50" x2="145.70" y2="83.00" stroke="#7a7a7a" stroke-width="1" />
<line x1="145.70" y1="10.50" x2="145.70" y2="12.00" stroke="#7a7a7a" stroke-width="1" />
<text x="146.00" y="93.00" font-size="8" text-anchor="middle" fill="#1a1a1a" stroke="#1a1a1a" stroke-width="0.3" >20</text>
<line x1="164.50" y1="84.50" x2="164.50" y2="83.00" stroke="#7a7a7a" stroke-width="1" />
<line x1="164.50" y1="10.50" x2="164.50" y2="12.00" stroke="#7a7a7a" stroke-width="1" />
<text x="164.80" y="93.00" font-size="8" text-anchor="middle" fill="#1a1a1a" stroke="#1a1a1a" stroke-width="0.3" >22</text>
<rect x="198" y="125.5" width="101.5" height="63.8" fill="#fff" stroke="#8a8a8a" stroke-width="1"/>
<line x1="202.3" y1="133.8" x2="225.8" y2="133.8" stroke="#3a3a3a" stroke-width="1.4" />
<text x="228.50" y="138.40" font-size="13" text-anchor="start" fill="#2a2a2a" stroke="#2a2a2a" stroke-width="0.15" >Hex.2b (ZZ)</text>
<line x1="202.3" y1="149.20000000000002" x2="225.8" y2="149.20000000000002" stroke="#f00" stroke-width="1.4" />
<text x="228.50" y="153.80" font-size="13" text-anchor="start" fill="#2a2a2a" stroke="#2a2a2a" stroke-width="0.15" >Hex.2p (ZZ)</text>
<line x1="201.9" y1="164.60000000000002" x2="225.8" y2="164.60000000000002" stroke="#3a3a3a" stroke-width="1.4" stroke-dasharray="7 6"/>
<text x="228.50" y="169.20" font-size="13" text-anchor="start" fill="#2a2a2a" stroke="#2a2a2a" stroke-width="0.15" >Hex.2b (AC)</text>
<line x1="201.9" y1="180.0" x2="225.8" y2="180.0" stroke="#f00" stroke-width="1.4" stroke-dasharray="7 6"/>
<text x="228.50" y="184.60" font-size="13" text-anchor="start" fill="#2a2a2a" stroke="#2a2a2a" stroke-width="0.15" >Hex.2p (AC)</text>
<line x1="226.40" y1="120.00" x2="226.40" y2="99.80" stroke="#00ff00" stroke-width="1.5" />
<path d="M226.4,90.3 L222.1,100.3 L226.4,99.1 L230.70000000000002,100.3 Z" fill="#00ff00" stroke="none"/>
<line x1="264.10" y1="70.70" x2="264.10" y2="91.40" stroke="#0000ff" stroke-width="1.5" />
<path d="M264.1,100.5 L260.20000000000005,90.9 L264.1,92.1 L268.0,90.9 Z" fill="#0000ff" stroke="none"/>
<text x="157.90" y="231.50" font-size="16.5" text-anchor="start" fill="#404040" stroke="#404040" stroke-width="0.1" font-style="italic">ε</text>
<text x="171.00" y="230.80" font-size="17" text-anchor="start" fill="#404040" stroke="#404040" stroke-width="0.1" >(%)</text>
<text x="178.00" y="251.50" font-size="18" text-anchor="middle" fill="#1a1a1a" stroke="#1a1a1a" stroke-width="0.3" >(a)</text>
<text x="0" y="0" font-size="18" text-anchor="middle" fill="#1a1a1a" stroke="#1a1a1a" stroke-width="0.3" transform="translate(13.0,98.5) rotate(-90)">per-atom <tspan font-style="italic">E</tspan> (eV)</text>
<line x1="433.38" y1="1.50" x2="433.38" y2="196.30" stroke="#ebebeb" stroke-width="1" />
<line x1="499.25" y1="1.50" x2="499.25" y2="196.30" stroke="#ebebeb" stroke-width="1" />
<line x1="565.12" y1="1.50" x2="565.12" y2="196.30" stroke="#ebebeb" stroke-width="1" />
<line x1="367.50" y1="118.20" x2="631.00" y2="118.20" stroke="#ebebeb" stroke-width="1" />
<line x1="367.50" y1="40.10" x2="631.00" y2="40.10" stroke="#ebebeb" stroke-width="1" />
<line x1="367.50" y1="1.50" x2="631.00" y2="1.50" stroke="#7a7a7a" stroke-width="1" />
<line x1="367.50" y1="196.30" x2="631.00" y2="196.30" stroke="#7a7a7a" stroke-width="1" />
<line x1="367.50" y1="1.50" x2="367.50" y2="196.30" stroke="#7a7a7a" stroke-width="1" />
<line x1="631.00" y1="1.50" x2="631.00" y2="196.30" stroke="#7a7a7a" stroke-width="1" />
<g fill="none" stroke="#000" stroke-linejoin="round">
<path d="M367.50,21.16 L374.09,25.26 L380.68,27.21 L387.26,32.68 L393.85,35.41 L400.44,36.20 L407.02,37.37 L413.61,38.54 L420.20,39.51 L426.79,39.90 L433.38,40.30 L439.96,40.69 L446.55,44.79 L453.14,54.55 L459.73,59.63 L466.31,63.92 L472.90,79.93 L479.49,88.13 L486.07,102.19 L492.66,127.18 L499.25,154.13 L505.84,182.24 L512.42,184.59 L519.01,185.76 L525.60,193.18 L532.19,193.18 L538.77,193.18 L545.36,193.18 L551.95,193.18 L558.54,193.18 L565.12,193.18" stroke-width="1.3"/>
<line x1="551.95" y1="78.98" x2="558.54" y2="101.24" stroke-width="1.3" stroke-dasharray="7.8 5.2" stroke-dashoffset="9.87"/>
<line x1="571.71" y1="102.02" x2="578.30" y2="126.62" stroke-width="1.3" stroke-dasharray="7.8 5.2" stroke-dashoffset="8.13"/>
<line x1="624.41" y1="137.94" x2="631.00" y2="190.66" stroke-width="1.3" stroke-dasharray="7.8 5.2" stroke-dashoffset="4.84"/>
<path d="M367.50,23.58 L374.09,27.82 L380.68,30.95 L387.26,37.82 L393.85,40.16 L400.44,42.90 L407.02,44.85 L413.61,45.63 L420.20,46.02 L426.79,47.19 L433.38,47.58 L439.96,44.85 L446.55,45.71 L453.14,42.19 L459.73,42.19 L466.31,42.19 L472.90,42.19 L479.49,42.19 L486.07,44.54 L492.66,47.35 L499.25,47.35 L505.84,49.69 L512.42,51.64 L519.01,61.80 L525.60,68.04 L532.19,69.61 L538.77,76.64 L545.36,77.03 L551.95,78.98" stroke-width="1.3"/>
<path d="M558.54,101.24 L565.12,101.24 L571.71,102.02" stroke-width="1.3"/>
<path d="M578.30,126.62 L584.89,126.62 L591.48,127.40 L598.06,128.18 L604.65,128.96 L611.24,130.13 L617.83,131.70 L624.41,137.94" stroke-width="1.3"/>
<circle cx="367.50" cy="21.16" r="3.2" stroke-width="1.2"/>
<circle cx="374.09" cy="25.26" r="3.2" stroke-width="1.2"/>
<circle cx="380.68" cy="27.21" r="3.2" stroke-width="1.2"/>
<circle cx="387.26" cy="32.68" r="3.2" stroke-width="1.2"/>
<circle cx="393.85" cy="35.41" r="3.2" stroke-width="1.2"/>
<circle cx="400.44" cy="36.20" r="3.2" stroke-width="1.2"/>
<circle cx="407.02" cy="37.37" r="3.2" stroke-width="1.2"/>
<circle cx="413.61" cy="38.54" r="3.2" stroke-width="1.2"/>
<circle cx="420.20" cy="39.51" r="3.2" stroke-width="1.2"/>
<circle cx="426.79" cy="39.90" r="3.2" stroke-width="1.2"/>
<circle cx="433.38" cy="40.30" r="3.2" stroke-width="1.2"/>
<circle cx="439.96" cy="40.69" r="3.2" stroke-width="1.2"/>
<circle cx="446.55" cy="44.79" r="3.2" stroke-width="1.2"/>
<circle cx="453.14" cy="54.55" r="3.2" stroke-width="1.2"/>
<circle cx="459.73" cy="59.63" r="3.2" stroke-width="1.2"/>
<circle cx="466.31" cy="63.92" r="3.2" stroke-width="1.2"/>
<circle cx="472.90" cy="79.93" r="3.2" stroke-width="1.2"/>
<circle cx="479.49" cy="88.13" r="3.2" stroke-width="1.2"/>
<circle cx="486.07" cy="102.19" r="3.2" stroke-width="1.2"/>
<circle cx="492.66" cy="127.18" r="3.2" stroke-width="1.2"/>
<circle cx="499.25" cy="154.13" r="3.2" stroke-width="1.2"/>
<circle cx="505.84" cy="182.24" r="3.2" stroke-width="1.2"/>
<circle cx="512.42" cy="184.59" r="3.2" stroke-width="1.2"/>
<circle cx="519.01" cy="185.76" r="3.2" stroke-width="1.2"/>
<circle cx="525.60" cy="193.18" r="3.2" stroke-width="1.2"/>
<circle cx="532.19" cy="193.18" r="3.2" stroke-width="1.2"/>
<circle cx="538.77" cy="193.18" r="3.2" stroke-width="1.2"/>
<circle cx="545.36" cy="193.18" r="3.2" stroke-width="1.2"/>
<circle cx="551.95" cy="193.18" r="3.2" stroke-width="1.2"/>
<circle cx="558.54" cy="193.18" r="3.2" stroke-width="1.2"/>
<circle cx="565.12" cy="193.18" r="3.2" stroke-width="1.2"/>
<path d="M367.50,17.88 L371.50,24.48 L363.50,24.48 Z" stroke-width="1.2" fill="#fff"/>
<path d="M374.09,22.12 L378.09,28.72 L370.09,28.72 Z" stroke-width="1.2"/>
<path d="M380.68,25.25 L384.68,31.85 L376.68,31.85 Z" stroke-width="1.2"/>
<path d="M387.26,32.12 L391.26,38.72 L383.26,38.72 Z" stroke-width="1.2"/>
<path d="M393.85,34.46 L397.85,41.06 L389.85,41.06 Z" stroke-width="1.2"/>
<path d="M400.44,37.20 L404.44,43.80 L396.44,43.80 Z" stroke-width="1.2"/>
<path d="M407.02,39.15 L411.02,45.75 L403.02,45.75 Z" stroke-width="1.2"/>
<path d="M413.61,39.93 L417.61,46.53 L409.61,46.53 Z" stroke-width="1.2"/>
<path d="M420.20,40.32 L424.20,46.92 L416.20,46.92 Z" stroke-width="1.2"/>
<path d="M426.79,41.49 L430.79,48.09 L422.79,48.09 Z" stroke-width="1.2"/>
<path d="M433.38,41.88 L437.38,48.48 L429.38,48.48 Z" stroke-width="1.2"/>
<path d="M439.96,39.15 L443.96,45.75 L435.96,45.75 Z" stroke-width="1.2"/>
<path d="M446.55,40.01 L450.55,46.61 L442.55,46.61 Z" stroke-width="1.2"/>
<path d="M453.14,36.49 L457.14,43.09 L449.14,43.09 Z" stroke-width="1.2"/>
<path d="M459.73,36.49 L463.73,43.09 L455.73,43.09 Z" stroke-width="1.2"/>
<path d="M466.31,36.49 L470.31,43.09 L462.31,43.09 Z" stroke-width="1.2"/>
<path d="M472.90,36.49 L476.90,43.09 L468.90,43.09 Z" stroke-width="1.2"/>
<path d="M479.49,36.49 L483.49,43.09 L475.49,43.09 Z" stroke-width="1.2"/>
<path d="M486.07,38.84 L490.07,45.44 L482.07,45.44 Z" stroke-width="1.2"/>
<path d="M492.66,41.65 L496.66,48.25 L488.66,48.25 Z" stroke-width="1.2"/>
<path d="M499.25,41.65 L503.25,48.25 L495.25,48.25 Z" stroke-width="1.2"/>
<path d="M505.84,43.99 L509.84,50.59 L501.84,50.59 Z" stroke-width="1.2"/>
<path d="M512.42,45.94 L516.42,52.54 L508.42,52.54 Z" stroke-width="1.2"/>
<path d="M519.01,56.10 L523.01,62.70 L515.01,62.70 Z" stroke-width="1.2"/>
<path d="M525.60,62.34 L529.60,68.94 L521.60,68.94 Z" stroke-width="1.2"/>
<path d="M532.19,63.91 L536.19,70.51 L528.19,70.51 Z" stroke-width="1.2"/>
<path d="M538.77,70.94 L542.77,77.54 L534.77,77.54 Z" stroke-width="1.2"/>
<path d="M545.36,71.33 L549.36,77.93 L541.36,77.93 Z" stroke-width="1.2"/>
<path d="M551.95,73.28 L555.95,79.88 L547.95,79.88 Z" stroke-width="1.2"/>
<path d="M558.54,95.54 L562.54,102.14 L554.54,102.14 Z" stroke-width="1.2"/>
<path d="M565.12,95.54 L569.12,102.14 L561.12,102.14 Z" stroke-width="1.2"/>
<path d="M571.71,96.32 L575.71,102.92 L567.71,102.92 Z" stroke-width="1.2"/>
<path d="M578.30,120.92 L582.30,127.52 L574.30,127.52 Z" stroke-width="1.2"/>
<path d="M584.89,120.92 L588.89,127.52 L580.89,127.52 Z" stroke-width="1.2"/>
<path d="M591.48,121.70 L595.48,128.30 L587.48,128.30 Z" stroke-width="1.2"/>
<path d="M598.06,122.48 L602.06,129.08 L594.06,129.08 Z" stroke-width="1.2"/>
<path d="M604.65,123.26 L608.65,129.86 L600.65,129.86 Z" stroke-width="1.2"/>
<path d="M611.24,124.43 L615.24,131.03 L607.24,131.03 Z" stroke-width="1.2"/>
<path d="M617.83,126.00 L621.83,132.60 L613.83,132.60 Z" stroke-width="1.2"/>
<path d="M624.41,132.24 L628.41,138.84 L620.41,138.84 Z" stroke-width="1.2"/>
<path d="M631.00,184.96 L635.00,191.56 L627.00,191.56 Z" stroke-width="1.2"/>
</g>
<line x1="367.50" y1="196.30" x2="370.10" y2="196.30" stroke="#7a7a7a" stroke-width="1" />
<line x1="631.00" y1="196.30" x2="628.40" y2="196.30" stroke="#7a7a7a" stroke-width="1" />
<text x="362.80" y="201.50" font-size="14" text-anchor="end" fill="#1a1a1a" stroke="#1a1a1a" stroke-width="0.3" >0</text>
<line x1="367.50" y1="118.20" x2="370.10" y2="118.20" stroke="#7a7a7a" stroke-width="1" />
<line x1="631.00" y1="118.20" x2="628.40" y2="118.20" stroke="#7a7a7a" stroke-width="1" />
<text x="362.80" y="123.40" font-size="14" text-anchor="end" fill="#1a1a1a" stroke="#1a1a1a" stroke-width="0.3" >0.2</text>
<line x1="367.50" y1="40.10" x2="370.10" y2="40.10" stroke="#7a7a7a" stroke-width="1" />
<line x1="631.00" y1="40.10" x2="628.40" y2="40.10" stroke="#7a7a7a" stroke-width="1" />
<text x="362.80" y="45.30" font-size="14" text-anchor="end" fill="#1a1a1a" stroke="#1a1a1a" stroke-width="0.3" >0.4</text>
<line x1="367.50" y1="196.30" x2="367.50" y2="193.70" stroke="#7a7a7a" stroke-width="1" />
<line x1="367.50" y1="1.50" x2="367.50" y2="4.10" stroke="#7a7a7a" stroke-width="1" />
<text x="367.50" y="214.00" font-size="14" text-anchor="middle" fill="#1a1a1a" stroke="#1a1a1a" stroke-width="0.3" >0</text>
<line x1="433.38" y1="196.30" x2="433.38" y2="193.70" stroke="#7a7a7a" stroke-width="1" />
<line x1="433.38" y1="1.50" x2="433.38" y2="4.10" stroke="#7a7a7a" stroke-width="1" />
<text x="433.38" y="214.00" font-size="14" text-anchor="middle" fill="#1a1a1a" stroke="#1a1a1a" stroke-width="0.3" >10</text>
<line x1="499.25" y1="196.30" x2="499.25" y2="193.70" stroke="#7a7a7a" stroke-width="1" />
<line x1="499.25" y1="1.50" x2="499.25" y2="4.10" stroke="#7a7a7a" stroke-width="1" />
<text x="499.25" y="214.00" font-size="14" text-anchor="middle" fill="#1a1a1a" stroke="#1a1a1a" stroke-width="0.3" >20</text>
<line x1="565.12" y1="196.30" x2="565.12" y2="193.70" stroke="#7a7a7a" stroke-width="1" />
<line x1="565.12" y1="1.50" x2="565.12" y2="4.10" stroke="#7a7a7a" stroke-width="1" />
<text x="565.12" y="214.00" font-size="14" text-anchor="middle" fill="#1a1a1a" stroke="#1a1a1a" stroke-width="0.3" >30</text>
<line x1="631.00" y1="196.30" x2="631.00" y2="193.70" stroke="#7a7a7a" stroke-width="1" />
<line x1="631.00" y1="1.50" x2="631.00" y2="4.10" stroke="#7a7a7a" stroke-width="1" />
<text x="629.30" y="214.00" font-size="14" text-anchor="middle" fill="#1a1a1a" stroke="#1a1a1a" stroke-width="0.3" >40</text>
<rect x="374.3" y="164.3" width="45" height="25.7" fill="#fff" stroke="#8a8a8a" stroke-width="1"/>
<line x1="376.8" y1="171.2" x2="400.6" y2="171.2" stroke="#222" stroke-width="1.3"/>
<circle cx="388.7" cy="171.1" r="3.3" fill="none" stroke="#000" stroke-width="1.2"/>
<text x="402.60" y="174.80" font-size="10" text-anchor="start" fill="#333" stroke="#333" stroke-width="0.3" font-style="italic">ZZ</text>
<line x1="376.8" y1="183" x2="385.8" y2="183" stroke="#222" stroke-width="1.3"/>
<line x1="391.6" y1="183" x2="397.5" y2="183" stroke="#222" stroke-width="1.3"/>
<path d="M388.7,178.9 L392.5,184.6 L384.9,184.6 Z" fill="none" stroke="#000" stroke-width="1.2"/>
<text x="403.20" y="186.60" font-size="10" text-anchor="start" fill="#333" stroke="#333" stroke-width="0.3" >AC</text>
<line x1="505.90" y1="147.30" x2="505.90" y2="167.40" stroke="#00ff00" stroke-width="1.5" />
<path d="M505.9,176.6 L502.0,166.9 L505.9,168.1 L509.79999999999995,166.9 Z" fill="#00ff00" stroke="none"/>
<line x1="630.90" y1="153.10" x2="630.90" y2="173.00" stroke="#00ff00" stroke-width="1.5" />
<path d="M630.9,182.7 L626.4,172.5 L630.9,173.7 L635.4,172.5 Z" fill="#00ff00" stroke="none"/>
<text x="478.20" y="232.30" font-size="16.5" text-anchor="start" fill="#484848" stroke="#484848" stroke-width="0.1" font-style="italic">ε</text>
<text x="490.40" y="231.60" font-size="17" text-anchor="start" fill="#484848" stroke="#484848" stroke-width="0.1" >(%)</text>
<text x="496.20" y="252.00" font-size="18" text-anchor="middle" fill="#1a1a1a" stroke="#1a1a1a" stroke-width="0.3" >(b)</text>
<text x="0" y="0" font-size="18" text-anchor="middle" fill="#1a1a1a" stroke="#1a1a1a" stroke-width="0.3" transform="translate(336.7,98.3) rotate(-90)"><tspan font-size="16">Δ</tspan>(<tspan font-style="italic">Å</tspan>)</text>
</g></svg>
</body></html>
